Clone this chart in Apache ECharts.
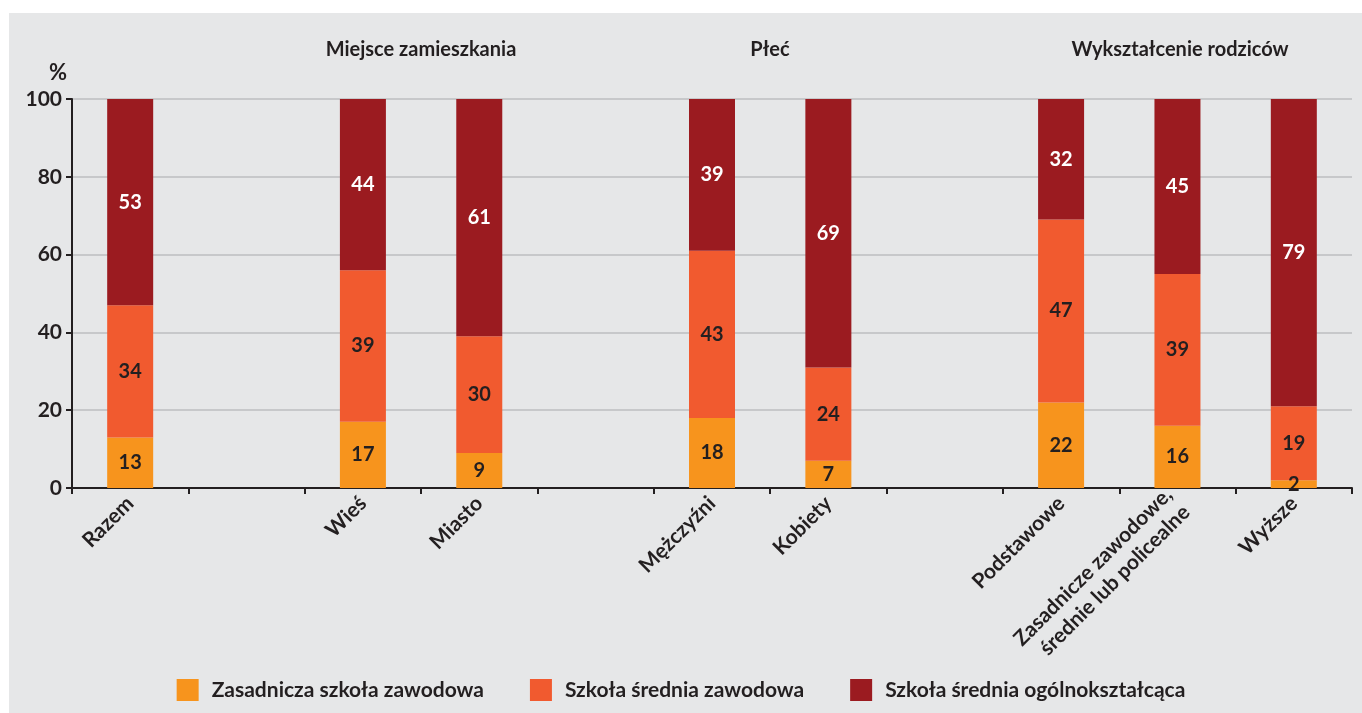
<!DOCTYPE html>
<html>
<head>
<meta charset="utf-8">
<script src="https://cdn.jsdelivr.net/npm/echarts@6/dist/echarts.min.js"></script>
<style>
    html, body { margin: 0; padding: 0; background: #ffffff; }
    #panel { position: absolute; left: 9px; top: 13px; right: 0; bottom: 0; background: #e6e7e8; }
    #chart { position: absolute; left: 0; top: 0; width: 1362px; height: 713px; }
</style>
</head>
<body>
<div id="panel"></div>
<div id="chart"></div>
<script>
const categories = ['Razem', '', 'Wieś', 'Miasto', '', 'Mężczyźni', 'Kobiety', '', 'Podstawowe', 'Zasadnicze zawodowe,\nśrednie lub policealne', 'Wyższe'];
const zasadnicza = [13, '-', 17, 9, '-', 18, 7, '-', 22, 16, 2];
const sredniaZawodowa = [34, '-', 39, 30, '-', 43, 24, '-', 47, 39, 19];
const ogolnoksztalcaca = [53, '-', 44, 61, '-', 39, 69, '-', 32, 45, 79];
const seriesNames = ['Zasadnicza szkoła zawodowa', 'Szkoła średnia zawodowa', 'Szkoła średnia ogólnokształcąca'];
const yTicks = [0, 20, 40, 60, 80, 100];
const groupTitles = [
    { text: 'Miejsce zamieszkania', x: 421 },
    { text: 'Płeć', x: 770 },
    { text: 'Wykształcenie rodziców', x: 1180 },
];

const FONT = 'Lato, "Open Sans", sans-serif';
const DARK = '#231f20';
const COLORS = ['#f7941d', '#f15a2f', '#9b1b20'];

const myChart = echarts.init(document.getElementById('chart'));

const makeSeries = (name, data, i) => ({
    name,
    type: 'bar',
    stack: 'total',
    barWidth: 46,
    itemStyle: { color: COLORS[i] },
    label: {
        show: true,
        position: 'inside',
        color: i === 2 ? '#ffffff' : DARK,
        fontFamily: FONT,
        fontWeight: 'bold',
        fontSize: 20,
    },
    data,
});

const option = {
    animation: false,
    backgroundColor: 'transparent',
    textStyle: { fontFamily: FONT },
    graphic: [
        ...groupTitles.map(t => ({
            type: 'text',
            x: t.x,
            y: 50,
            style: {
                text: t.text,
                fill: DARK,
                font: 'bold 20px ' + FONT,
                textAlign: 'center',
                textVerticalAlign: 'middle',
            },
        })),
        {
            type: 'text',
            x: 58,
            y: 73,
            style: {
                text: '%',
                fill: DARK,
                font: 'bold 22px ' + FONT,
                textAlign: 'center',
                textVerticalAlign: 'middle',
            },
        },
    ],
    grid: {
        left: 72,
        right: 10,
        top: 99,
        bottom: 225,
        containLabel: false,
    },
    legend: {
        bottom: 7,
        left: 'center',
        itemWidth: 22,
        itemHeight: 22,
        itemGap: 46,
        icon: 'rect',
        data: seriesNames,
        textStyle: {
            color: DARK,
            fontFamily: FONT,
            fontWeight: 'bold',
            fontSize: 21,
            padding: [0, 0, 0, 8],
        },
    },
    xAxis: {
        type: 'category',
        data: categories,
        axisLine: { lineStyle: { color: DARK, width: 2 } },
        axisTick: { show: true, interval: 0, length: 6, lineStyle: { color: DARK, width: 2 } },
        axisLabel: {
            interval: 0,
            rotate: 45,
            margin: 12,
            color: DARK,
            fontFamily: FONT,
            fontWeight: 'bold',
            fontSize: 21,
            lineHeight: 25,
        },
    },
    yAxis: {
        type: 'value',
        min: 0,
        max: 100,
        interval: 20,
        axisLine: { show: true, lineStyle: { color: DARK, width: 2 } },
        axisTick: { show: true, length: 6, lineStyle: { color: DARK, width: 2 } },
        axisLabel: {
            margin: 10,
            color: DARK,
            fontFamily: FONT,
            fontWeight: 'bold',
            fontSize: 21,
            formatter: v => (yTicks.includes(v) ? String(v) : ''),
        },
        splitLine: { show: true, lineStyle: { color: '#bcbec0', width: 1.5 } },
    },
    series: [
        makeSeries(seriesNames[0], zasadnicza, 0),
        makeSeries(seriesNames[1], sredniaZawodowa, 1),
        makeSeries(seriesNames[2], ogolnoksztalcaca, 2),
    ],
};

myChart.setOption(option);
</script>
</body>
</html>
